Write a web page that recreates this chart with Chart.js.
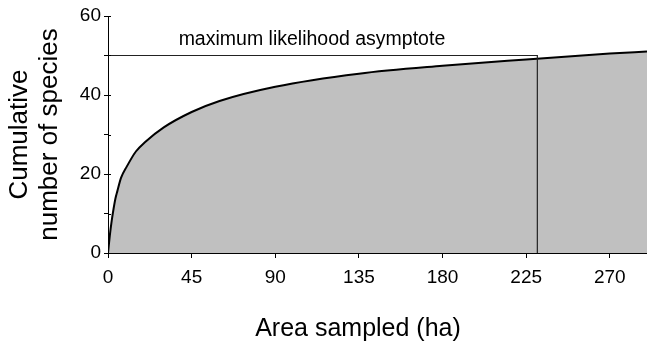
<!DOCTYPE html>
<html>
<head>
<meta charset="utf-8">
<script src="https://cdn.jsdelivr.net/npm/chart.js@4/dist/chart.umd.min.js"></script>
<style>
  html, body { margin: 0; padding: 0; background: #fff; }
  #wrap { width: 647px; height: 341px; }
</style>
</head>
<body>
<div id="wrap"><canvas id="c1" width="647" height="341"></canvas></div>
<script>
// values
const areaHa = [0, 1, 2, 3, 4, 5, 7, 10, 15, 20, 30, 45, 60, 90, 135, 180, 225, 270, 290];
const species = [0, 4.5, 8.2, 11.2, 13.8, 15.6, 19, 21.8, 25.7, 28.1, 31.8, 35.7, 38.5, 42.1, 45.4, 47.4, 49, 50.5, 51];

const asymptote = 50;
const asymptoteArea = 231;
const asymptoteLabel = "maximum likelihood asymptote";

const xTicks = [0, 45, 90, 135, 180, 225, 270];
const yTicks = [0, 10, 20, 30, 40, 50, 60];
const yLabelled = [0, 20, 40, 60];

const xTitle = "Area sampled (ha)";
const yTitle = ["Cumulative", "number of species"];

const FONT = "Arial, 'Liberation Sans', sans-serif";

const curve = areaHa.map((a, i) => ({ x: a, y: species[i] }));
const asymLine = [
  { x: 0, y: asymptote },
  { x: asymptoteArea, y: asymptote },
  { x: asymptoteArea, y: 0 }
];

// text on top of the plot + x title, plus the inward half of the y ticks
const extras = {
  id: "extras",
  afterDraw(chart) {
    const ctx = chart.ctx;
    const xs = chart.scales.x;
    const ys = chart.scales.y;
    ctx.save();
    ctx.fillStyle = "#000";
    ctx.font = "19.5px " + FONT;
    ctx.textAlign = "left";
    ctx.textBaseline = "alphabetic";
    ctx.fillText(asymptoteLabel, xs.getPixelForValue(38), ys.getPixelForValue(asymptote) - 11);

    ctx.font = "25px " + FONT;
    ctx.textAlign = "center";
    ctx.fillText(xTitle, 358, 336);

    ctx.strokeStyle = "#000";
    ctx.lineWidth = 1;
    yTicks.forEach(v => {
      const py = Math.round(ys.getPixelForValue(v)) + 0.5;
      ctx.beginPath();
      ctx.moveTo(xs.left, py);
      ctx.lineTo(xs.left + 3, py);
      ctx.stroke();
    });
    ctx.restore();
  }
};

new Chart(document.getElementById("c1"), {
  type: "line",
  data: {
    datasets: [
      {
        data: asymLine,
        borderColor: "#222",
        borderWidth: 1.2,
        pointRadius: 0,
        fill: false,
        tension: 0
      },
      {
        data: curve,
        borderColor: "#000",
        borderWidth: 2,
        backgroundColor: "#c0c0c0",
        pointRadius: 0,
        fill: "origin",
        cubicInterpolationMode: "monotone"
      }
    ]
  },
  options: {
    responsive: false,
    animation: false,
    layout: { padding: { top: 16, right: 0, left: 0, bottom: 0 } },
    plugins: { legend: { display: false }, tooltip: { enabled: false } },
    scales: {
      x: {
        type: "linear",
        min: 0,
        max: 290,
        afterBuildTicks: s => { s.ticks = xTicks.map(v => ({ value: v })); },
        afterFit: s => { s.height = 88; },
        grid: { drawOnChartArea: false, drawTicks: true, tickLength: 5, color: "#000" },
        border: { display: true, color: "#000", width: 1 },
        ticks: { color: "#000", font: { family: FONT, size: 19 }, padding: 8, maxRotation: 0 },
        title: { display: false }
      },
      y: {
        type: "linear",
        min: 0,
        max: 60,
        afterBuildTicks: s => { s.ticks = yTicks.map(v => ({ value: v })); },
        afterFit: s => { s.width = 108; },
        grid: { drawOnChartArea: false, drawTicks: true, tickLength: 4, color: "#000" },
        border: { display: true, color: "#000", width: 1 },
        ticks: {
          color: "#000",
          font: { family: FONT, size: 19 },
          padding: 3,
          callback: v => (yLabelled.includes(v) ? String(v) : "")
        },
        title: {
          display: true,
          text: yTitle,
          color: "#000",
          font: { family: FONT, size: 26, lineHeight: 1.15 },
          padding: { top: 5, bottom: 0 }
        }
      }
    }
  },
  plugins: [extras]
});
</script>
</body>
</html>
